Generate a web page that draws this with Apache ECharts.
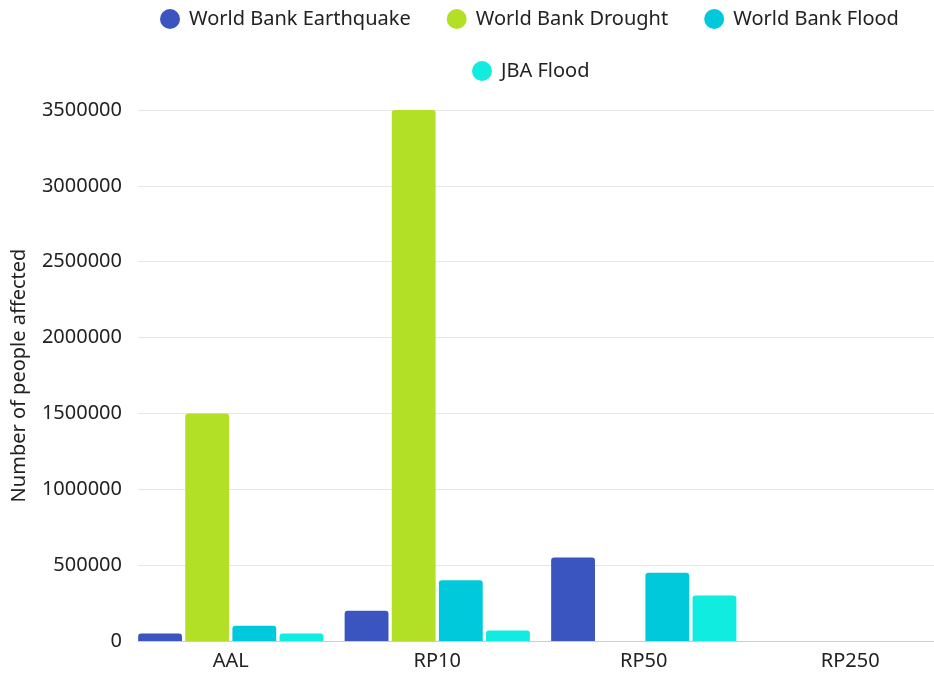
<!DOCTYPE html>
<html>
<head>
<meta charset="utf-8">
<script src="https://cdn.jsdelivr.net/npm/echarts@6/dist/echarts.min.js"></script>
<style>
html,body{margin:0;padding:0;background:#fff;}
#chart{width:934px;height:675px;}
</style>
</head>
<body>
<div id="chart"></div>
<script>
const categories = ['AAL', 'RP10', 'RP50', 'RP250'];
const seriesNames = ['World Bank Earthquake', 'World Bank Drought', 'World Bank Flood', 'JBA Flood'];
const earthquake = [50000, 200000, 550000, null];
const drought = [1500000, 3500000, null, null];
const wbFlood = [100000, 400000, 450000, null];
const jbaFlood = [50000, 70000, 300000, null];
const colors = ['#3b55c0', '#b2e027', '#00c9dc', '#10ecdf'];
const yTicks = [0, 500000, 1000000, 1500000, 2000000, 2500000, 3000000, 3500000];

const font = 'Noto Sans';
const values = [earthquake, drought, wbFlood, jbaFlood];
const yMin = yTicks[0], yMax = yTicks[yTicks.length - 1], yStep = yTicks[1] - yTicks[0];

const chart = echarts.init(document.getElementById('chart'), null, {renderer: 'canvas'});
const legendCommon = {
  icon: 'circle', itemWidth: 20, itemHeight: 20, itemGap: 36,
  textStyle: {fontFamily: font, fontSize: 20, color: '#222', padding: [0, 0, 0, 4]},
  selectedMode: false
};
chart.setOption({
  animation: false,
  color: colors,
  legend: [
    Object.assign({}, legendCommon, {data: seriesNames.slice(0, 3), left: 155, top: 4}),
    Object.assign({}, legendCommon, {data: seriesNames.slice(3), left: 467, top: 56})
  ],
  grid: [
    {left: 138, right: 0, top: 110, bottom: 34, outerBoundsMode: 'none'},
    {left: 127.5, width: 826, top: 110, bottom: 34, outerBoundsMode: 'none'}
  ],
  xAxis: [
    {
      type: 'value', gridIndex: 0, min: 0, max: 1,
      axisLine: {show: true, lineStyle: {color: '#ccc'}},
      axisTick: {show: false}, axisLabel: {show: false}, splitLine: {show: false}
    },
    {
      type: 'category', gridIndex: 1, data: categories,
      axisLine: {show: false},
      axisTick: {show: false},
      axisLabel: {fontFamily: font, fontSize: 20, color: '#222', margin: 10}
    }
  ],
  yAxis: [
    {
      type: 'value', gridIndex: 0, min: yMin, max: yMax, interval: yStep,
      name: 'Number of people affected', nameLocation: 'middle', nameGap: 109,
      nameTextStyle: {fontFamily: font, fontSize: 20, color: '#222'},
      axisLine: {show: false}, axisTick: {show: false},
      splitLine: {lineStyle: {color: '#e6e6e6'}},
      axisLabel: {fontFamily: font, fontSize: 20, color: '#222', margin: 16,
        formatter: v => String(v)}
    },
    {
      type: 'value', gridIndex: 1, min: yMin, max: yMax, interval: yStep, show: false
    }
  ],
  series: seriesNames.map((n, i) => ({
    name: n, type: 'bar', data: values[i],
    xAxisIndex: 1, yAxisIndex: 1,
    barGap: '7.5%', barCategoryGap: '10.3%',
    itemStyle: {color: colors[i], borderRadius: [3, 3, 0, 0]}
  }))
});
</script>
</body>
</html>
